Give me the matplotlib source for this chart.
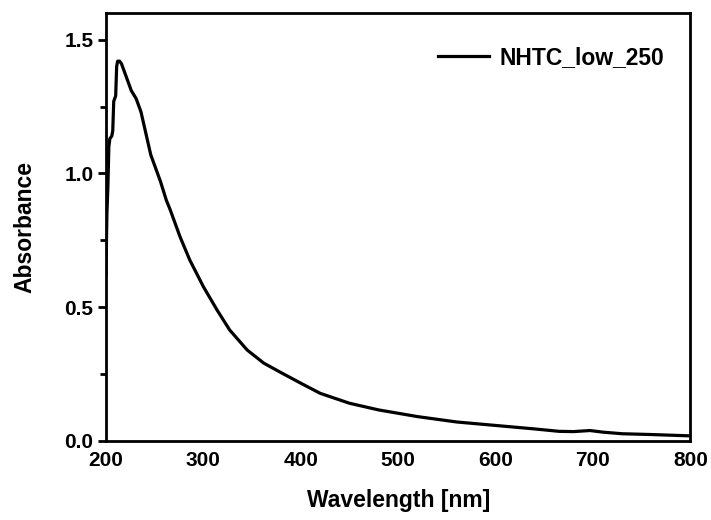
import matplotlib
matplotlib.use('Agg')
from matplotlib import pyplot as plt

# UV-Vis spectrum
wavelength = [200, 201, 202, 203, 204, 206, 207, 208, 210, 211, 212, 214, 216,
              218, 220, 223, 226, 231, 236, 241, 246, 251, 256, 262, 266, 276,
              286, 300, 314, 327, 345, 362, 380, 400, 420, 450, 480, 520, 560,
              600, 640, 665, 680, 697, 710, 730, 760, 800]
absorbance = [0.62, 0.85, 0.95, 1.10, 1.13, 1.14, 1.16, 1.27, 1.29, 1.40, 1.42,
              1.42, 1.41, 1.39, 1.37, 1.34, 1.31, 1.28, 1.23, 1.15, 1.07, 1.02,
              0.97, 0.90, 0.864, 0.764, 0.677, 0.577, 0.49, 0.415, 0.34, 0.291,
              0.255, 0.216, 0.178, 0.141, 0.116, 0.091, 0.071, 0.058, 0.045,
              0.036, 0.035, 0.039, 0.033, 0.027, 0.024, 0.019]
label = 'NHTC_low_250'

plt.rcParams['font.family'] = ['Liberation Sans', 'DejaVu Sans']
plt.rcParams['font.weight'] = 'bold'

fig = plt.figure(figsize=(7.11, 5.2), dpi=100)
ax = fig.add_axes([0.149, 0.152, 0.822, 0.823])

ax.plot(wavelength, absorbance, color='black', linewidth=2.3, label=label)

ax.set_xlim(200, 800)
ax.set_ylim(0, 1.6)
ax.set_xticks([200, 300, 400, 500, 600, 700, 800])
ax.set_yticks([0.0, 0.5, 1.0, 1.5])
ax.set_yticks([0.25, 0.75, 1.25], minor=True)

for s in ax.spines.values():
    s.set_linewidth(2.0)

ax.tick_params(axis='x', length=0, pad=7, labelsize=15)
ax.tick_params(axis='y', which='major', direction='out', length=6, width=2,
               labelsize=15, pad=3)
ax.tick_params(axis='y', which='minor', direction='out', length=4, width=2)

ax.set_xlabel('Wavelength [nm]', fontsize=16.5, fontweight='bold', labelpad=14)
ax.set_ylabel('Absorbance', fontsize=16.5, fontweight='bold', labelpad=20)

leg = ax.legend(loc='upper right', frameon=False, fontsize=16.5,
                handlelength=2.2, handletextpad=0.45,
                bbox_to_anchor=(0.99, 0.97))

fig.savefig('out.png', dpi=100)
